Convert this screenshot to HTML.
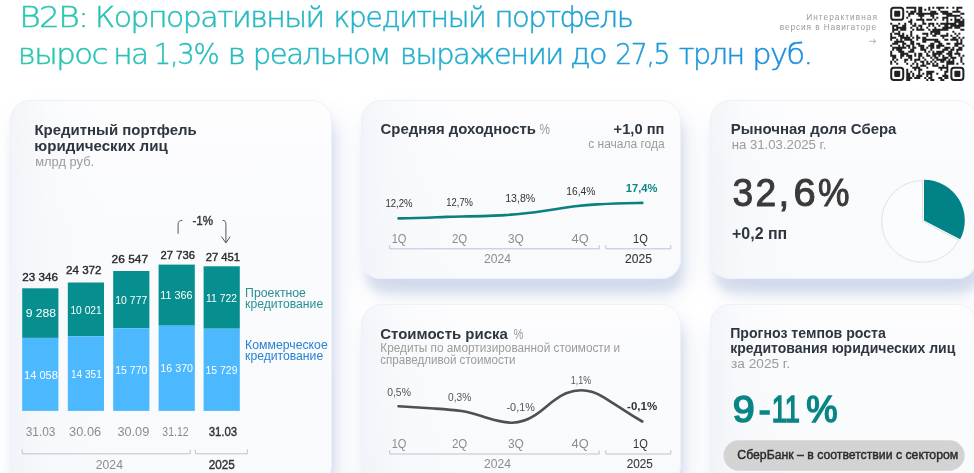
<!DOCTYPE html>
<html lang="ru"><head><meta charset="utf-8"><title>B2B</title>
<style>
html,body{margin:0;padding:0}
body{width:974px;height:473px;overflow:hidden;background:#fff;position:relative;font-family:"Liberation Sans","DejaVu Sans",sans-serif}
.card{position:absolute;border-radius:20px;border:1px solid #ecf1fb;background:linear-gradient(90deg,rgba(232,236,244,.48) 0,rgba(240,243,248,.22) 12%,rgba(255,255,255,0) 30%),linear-gradient(180deg,#fdfdfe 0,#fafbfd 30%,#f9fafc 100%);box-shadow:3px 16px 8px -2px rgba(150,170,210,.25),6px 14px 22px rgba(158,175,212,.30);box-sizing:border-box}
svg{position:absolute;left:0;top:0}
text{font-family:"Liberation Sans","DejaVu Sans",sans-serif}
.hd text{font-family:"DejaVu Sans Light","DejaVu Sans","Liberation Sans",sans-serif;font-weight:200}
</style></head><body>
<div class="card" style="left:10px;top:100px;width:322px;height:385px"></div>
<div class="card" style="left:361px;top:100px;width:320px;height:179px"></div>
<div class="card" style="left:710px;top:100px;width:267px;height:179px"></div>
<div class="card" style="left:361px;top:304px;width:320px;height:181px"></div>
<div class="card" style="left:710px;top:304px;width:267px;height:181px"></div>
<svg width="974" height="473" viewBox="0 0 974 473">
<defs><linearGradient id="hg" gradientUnits="userSpaceOnUse" x1="20" y1="0" x2="810" y2="0"><stop offset="0" stop-color="#2ac8ae"/><stop offset="0.5" stop-color="#22b0cc"/><stop offset="1" stop-color="#1b8de2"/></linearGradient></defs>
<g class="hd" fill="url(#hg)" stroke="url(#hg)" stroke-width="0.45" font-size="27.8" letter-spacing="-1.4">
<text y="27.3"><tspan x="19.15" textLength="68.37" lengthAdjust="spacingAndGlyphs">B2B:</tspan> <tspan x="95.07" textLength="228.70" lengthAdjust="spacingAndGlyphs">Корпоративный</tspan> <tspan x="333.44" textLength="151.79" lengthAdjust="spacingAndGlyphs">кредитный</tspan> <tspan x="494.47" textLength="137.82" lengthAdjust="spacingAndGlyphs">портфель</tspan></text>
<text y="64.4"><tspan x="17.88" textLength="88.99" lengthAdjust="spacingAndGlyphs">вырос</tspan> <tspan x="113.31" textLength="34.42" lengthAdjust="spacingAndGlyphs">на</tspan> <tspan x="153.83" textLength="64.38" lengthAdjust="spacingAndGlyphs">1,3%</tspan> <tspan x="227.60" textLength="16.87" lengthAdjust="spacingAndGlyphs">в</tspan> <tspan x="252.66" textLength="137.19" lengthAdjust="spacingAndGlyphs">реальном</tspan> <tspan x="400.09" textLength="162.66" lengthAdjust="spacingAndGlyphs">выражении</tspan> <tspan x="570.00" textLength="36.26" lengthAdjust="spacingAndGlyphs">до</tspan> <tspan x="615.35" textLength="53.68" lengthAdjust="spacingAndGlyphs">27,5</tspan> <tspan x="678.70" textLength="65.10" lengthAdjust="spacingAndGlyphs">трлн</tspan> <tspan x="752.32" textLength="59.45" lengthAdjust="spacingAndGlyphs">руб.</tspan></text></g>
<text x="806.20" y="19.8" font-size="8.3" fill="#9a9a9a" letter-spacing="1.037">Интерактивная</text>
<text x="779.80" y="29.7" font-size="8.3" fill="#9a9a9a" letter-spacing="0.889">версия в Навигаторе</text>
<path d="M869.3 41.3h6.3M873.2 38.9l2.5 2.4l-2.5 2.4" stroke="#8b8f9c" stroke-width="0.7" fill="none"/>
<g transform="translate(890.2,6.7) scale(2.005)"><path d="M8 0h5v1h-5zM14 0h2v1h-2zM19 0h1v1h-1zM21 0h1v1h-1zM23 0h4v1h-4zM28 0h1v1h-1zM31 0h1v1h-1zM33 0h3v1h-3zM12 1h1v1h-1zM14 1h2v1h-2zM17 1h1v1h-1zM19 1h1v1h-1zM24 1h1v1h-1zM33 1h1v1h-1zM8 2h1v1h-1zM10 2h3v1h-3zM14 2h2v1h-2zM20 2h3v1h-3zM25 2h4v1h-4zM31 2h4v1h-4zM9 3h3v1h-3zM13 3h11v1h-11zM26 3h5v1h-5zM35 3h2v1h-2zM9 4h1v1h-1zM14 4h3v1h-3zM20 4h2v1h-2zM28 4h7v1h-7zM8 5h1v1h-1zM15 5h1v1h-1zM21 5h1v1h-1zM23 5h1v1h-1zM26 5h3v1h-3zM32 5h1v1h-1zM35 5h1v1h-1zM10 6h1v1h-1zM13 6h4v1h-4zM18 6h3v1h-3zM22 6h1v1h-1zM26 6h1v1h-1zM28 6h1v1h-1zM30 6h1v1h-1zM32 6h3v1h-3zM36 6h1v1h-1zM9 7h2v1h-2zM16 7h1v1h-1zM28 7h1v1h-1zM32 7h5v1h-5zM0 8h1v1h-1zM4 8h1v1h-1zM7 8h1v1h-1zM10 8h1v1h-1zM12 8h1v1h-1zM16 8h2v1h-2zM19 8h3v1h-3zM23 8h1v1h-1zM25 8h8v1h-8zM34 8h3v1h-3zM1 9h3v1h-3zM6 9h2v1h-2zM11 9h2v1h-2zM14 9h2v1h-2zM19 9h1v1h-1zM21 9h1v1h-1zM24 9h1v1h-1zM27 9h2v1h-2zM30 9h7v1h-7zM1 10h1v1h-1zM3 10h5v1h-5zM10 10h1v1h-1zM13 10h1v1h-1zM15 10h1v1h-1zM18 10h1v1h-1zM22 10h1v1h-1zM26 10h5v1h-5zM32 10h3v1h-3zM1 11h3v1h-3zM5 11h3v1h-3zM11 11h1v1h-1zM13 11h4v1h-4zM19 11h1v1h-1zM21 11h8v1h-8zM35 11h2v1h-2zM1 12h1v1h-1zM4 12h1v1h-1zM10 12h1v1h-1zM20 12h5v1h-5zM31 12h1v1h-1zM0 13h1v1h-1zM2 13h3v1h-3zM6 13h1v1h-1zM10 13h1v1h-1zM16 13h3v1h-3zM20 13h1v1h-1zM22 13h3v1h-3zM28 13h1v1h-1zM32 13h1v1h-1zM34 13h1v1h-1zM0 14h1v1h-1zM4 14h3v1h-3zM8 14h1v1h-1zM10 14h1v1h-1zM13 14h1v1h-1zM18 14h1v1h-1zM21 14h2v1h-2zM25 14h4v1h-4zM30 14h1v1h-1zM33 14h1v1h-1zM0 15h3v1h-3zM5 15h5v1h-5zM11 15h1v1h-1zM13 15h2v1h-2zM16 15h2v1h-2zM26 15h1v1h-1zM31 15h2v1h-2zM34 15h1v1h-1zM36 15h1v1h-1zM0 16h1v1h-1zM3 16h1v1h-1zM5 16h1v1h-1zM7 16h4v1h-4zM13 16h1v1h-1zM16 16h8v1h-8zM27 16h2v1h-2zM30 16h4v1h-4zM35 16h1v1h-1zM2 17h5v1h-5zM10 17h2v1h-2zM16 17h2v1h-2zM22 17h3v1h-3zM33 17h1v1h-1zM35 17h1v1h-1zM1 18h3v1h-3zM6 18h2v1h-2zM10 18h2v1h-2zM13 18h2v1h-2zM20 18h2v1h-2zM24 18h2v1h-2zM28 18h2v1h-2zM32 18h4v1h-4zM0 19h1v1h-1zM4 19h1v1h-1zM6 19h1v1h-1zM8 19h2v1h-2zM11 19h1v1h-1zM14 19h3v1h-3zM19 19h3v1h-3zM23 19h4v1h-4zM32 19h2v1h-2zM36 19h1v1h-1zM1 20h7v1h-7zM9 20h1v1h-1zM11 20h2v1h-2zM15 20h2v1h-2zM18 20h1v1h-1zM20 20h2v1h-2zM23 20h2v1h-2zM27 20h3v1h-3zM31 20h1v1h-1zM34 20h2v1h-2zM1 21h1v1h-1zM3 21h3v1h-3zM10 21h2v1h-2zM15 21h3v1h-3zM20 21h1v1h-1zM26 21h3v1h-3zM30 21h2v1h-2zM33 21h3v1h-3zM0 22h1v1h-1zM4 22h3v1h-3zM9 22h3v1h-3zM17 22h1v1h-1zM19 22h1v1h-1zM21 22h1v1h-1zM23 22h4v1h-4zM29 22h2v1h-2zM33 22h1v1h-1zM0 23h1v1h-1zM5 23h4v1h-4zM12 23h1v1h-1zM14 23h2v1h-2zM18 23h1v1h-1zM21 23h5v1h-5zM28 23h3v1h-3zM32 23h3v1h-3zM0 24h3v1h-3zM5 24h2v1h-2zM8 24h3v1h-3zM12 24h1v1h-1zM14 24h2v1h-2zM18 24h2v1h-2zM21 24h2v1h-2zM24 24h1v1h-1zM26 24h1v1h-1zM29 24h2v1h-2zM34 24h1v1h-1zM36 24h1v1h-1zM1 25h2v1h-2zM5 25h1v1h-1zM9 25h2v1h-2zM14 25h1v1h-1zM16 25h1v1h-1zM20 25h1v1h-1zM22 25h2v1h-2zM26 25h3v1h-3zM30 25h3v1h-3zM35 25h1v1h-1zM1 26h1v1h-1zM3 26h1v1h-1zM7 26h2v1h-2zM10 26h1v1h-1zM12 26h3v1h-3zM17 26h1v1h-1zM21 26h1v1h-1zM23 26h5v1h-5zM29 26h1v1h-1zM31 26h1v1h-1zM35 26h1v1h-1zM0 27h1v1h-1zM2 27h1v1h-1zM7 27h1v1h-1zM12 27h1v1h-1zM15 27h2v1h-2zM18 27h1v1h-1zM20 27h1v1h-1zM22 27h1v1h-1zM25 27h2v1h-2zM28 27h4v1h-4zM35 27h1v1h-1zM0 28h1v1h-1zM3 28h1v1h-1zM8 28h1v1h-1zM11 28h1v1h-1zM13 28h1v1h-1zM16 28h1v1h-1zM18 28h2v1h-2zM21 28h1v1h-1zM23 28h1v1h-1zM28 28h4v1h-4zM33 28h1v1h-1zM36 28h1v1h-1zM10 29h1v1h-1zM13 29h1v1h-1zM15 29h3v1h-3zM21 29h3v1h-3zM26 29h1v1h-1zM28 29h1v1h-1zM11 30h4v1h-4zM18 30h1v1h-1zM24 30h5v1h-5zM8 31h1v1h-1zM12 31h1v1h-1zM14 31h2v1h-2zM25 31h1v1h-1zM28 31h1v1h-1zM8 32h1v1h-1zM10 32h1v1h-1zM14 32h1v1h-1zM18 32h4v1h-4zM27 32h2v1h-2zM8 33h2v1h-2zM11 33h1v1h-1zM14 33h1v1h-1zM16 33h1v1h-1zM18 33h3v1h-3zM23 33h1v1h-1zM27 33h1v1h-1zM8 34h2v1h-2zM11 34h1v1h-1zM13 34h3v1h-3zM18 34h1v1h-1zM20 34h1v1h-1zM26 34h3v1h-3zM8 35h3v1h-3zM12 35h3v1h-3zM17 35h1v1h-1zM19 35h2v1h-2zM24 35h2v1h-2zM27 35h2v1h-2zM8 36h2v1h-2zM18 36h1v1h-1zM20 36h2v1h-2zM25 36h2v1h-2z" fill="#222"/><rect x="0.5" y="0.5" width="6" height="6" rx="1.3" fill="none" stroke="#222" stroke-width="1"/><rect x="2" y="2" width="3" height="3" rx="0.5" fill="#222"/><rect x="0.5" y="30.5" width="6" height="6" rx="1.3" fill="none" stroke="#222" stroke-width="1"/><rect x="2" y="32" width="3" height="3" rx="0.5" fill="#222"/><rect x="30.5" y="30.5" width="6" height="6" rx="1.3" fill="none" stroke="#222" stroke-width="1"/><rect x="32" y="32" width="3" height="3" rx="0.5" fill="#222"/></g>
<text x="34.40" y="134.8" font-size="15" fill="#2e3640" font-weight="700" textLength="162.32" lengthAdjust="spacingAndGlyphs">Кредитный портфель</text>
<text x="34.39" y="150.8" font-size="15" fill="#2e3640" font-weight="700" textLength="133.42" lengthAdjust="spacingAndGlyphs">юридических лиц</text>
<text x="35.20" y="165.5" font-size="12" fill="#9b9b9b" textLength="58.96" lengthAdjust="spacingAndGlyphs">млрд руб.</text>
<rect x="22.2" y="288.3" width="36.2" height="49.6" fill="#078f8f"/><rect x="22.2" y="337.9" width="36.2" height="73.0" fill="#4cb9ff"/>
<rect x="67.8" y="282.5" width="36.2" height="53.8" fill="#078f8f"/><rect x="67.8" y="336.3" width="36.2" height="74.6" fill="#4cb9ff"/>
<rect x="113.2" y="271" width="36.2" height="57.2" fill="#078f8f"/><rect x="113.2" y="328.2" width="36.2" height="82.7" fill="#4cb9ff"/>
<rect x="158.6" y="264.6" width="36.2" height="61.1" fill="#078f8f"/><rect x="158.6" y="325.7" width="36.2" height="85.2" fill="#4cb9ff"/>
<rect x="203.6" y="266.3" width="36.2" height="62.4" fill="#078f8f"/><rect x="203.6" y="328.7" width="36.2" height="82.2" fill="#4cb9ff"/>
<text x="22.30" y="281.2" font-size="11.8" fill="#2b2b2b" stroke="#2b2b2b" stroke-width="0.4" textLength="35.67" lengthAdjust="spacingAndGlyphs">23 346</text>
<text x="66.00" y="273.8" font-size="11.8" fill="#2b2b2b" stroke="#2b2b2b" stroke-width="0.4" textLength="35.55" lengthAdjust="spacingAndGlyphs">24 372</text>
<text x="111.60" y="262.8" font-size="11.8" fill="#2b2b2b" stroke="#2b2b2b" stroke-width="0.4" textLength="36.47" lengthAdjust="spacingAndGlyphs">26 547</text>
<text x="160.60" y="258.6" font-size="11.8" fill="#2b2b2b" stroke="#2b2b2b" stroke-width="0.4" textLength="34.28" lengthAdjust="spacingAndGlyphs">27 736</text>
<text x="205.70" y="261.1" font-size="11.8" fill="#2b2b2b" stroke="#2b2b2b" stroke-width="0.4" textLength="34.44" lengthAdjust="spacingAndGlyphs">27 451</text>
<text x="25.70" y="316.8" font-size="11.5" fill="#fff" textLength="30.42" lengthAdjust="spacingAndGlyphs">9 288</text>
<text x="70.40" y="313.8" font-size="11.5" fill="#fff" textLength="31.35" lengthAdjust="spacingAndGlyphs">10 021</text>
<text x="115.30" y="304.1" font-size="11.5" fill="#fff" textLength="32.06" lengthAdjust="spacingAndGlyphs">10 777</text>
<text x="160.30" y="299" font-size="11.5" fill="#fff" textLength="32.27" lengthAdjust="spacingAndGlyphs">11 366</text>
<text x="206.00" y="302" font-size="11.5" fill="#fff" textLength="30.96" lengthAdjust="spacingAndGlyphs">11 722</text>
<text x="24.00" y="378.5" font-size="11.5" fill="#fff" textLength="33.88" lengthAdjust="spacingAndGlyphs">14 058</text>
<text x="71.00" y="377.7" font-size="11.5" fill="#fff" textLength="30.75" lengthAdjust="spacingAndGlyphs">14 351</text>
<text x="115.30" y="374" font-size="11.5" fill="#fff" textLength="32.06" lengthAdjust="spacingAndGlyphs">15 770</text>
<text x="160.30" y="372.1" font-size="11.5" fill="#fff" textLength="32.77" lengthAdjust="spacingAndGlyphs">16 370</text>
<text x="205.40" y="374" font-size="11.5" fill="#fff" textLength="32.16" lengthAdjust="spacingAndGlyphs">15 729</text>
<text x="192.40" y="224.8" font-size="13" fill="#333" stroke="#333" stroke-width="0.4" textLength="20.61" lengthAdjust="spacingAndGlyphs">-1%</text>
<path d="M178.100 233.800V224.500q0-4.200 4.300-4.200M222.600 220.300q3.300 0 3.300 4.200V242.800M221.400 236.600l4.500 6.300l4.300-6.300" stroke="#555" stroke-width="1" fill="none"/>
<text x="25.70" y="436.2" font-size="13" fill="#8c8c8c" textLength="29.71" lengthAdjust="spacingAndGlyphs">31.03</text>
<text x="69.10" y="436.2" font-size="13" fill="#8c8c8c" textLength="32.03" lengthAdjust="spacingAndGlyphs">30.06</text>
<text x="117.40" y="436.2" font-size="13" fill="#8c8c8c" textLength="31.93" lengthAdjust="spacingAndGlyphs">30.09</text>
<text x="162.30" y="436.2" font-size="13" fill="#8c8c8c" textLength="26.29" lengthAdjust="spacingAndGlyphs">31.12</text>
<text x="208.70" y="436.2" font-size="13" fill="#333" stroke="#333" stroke-width="0.4" textLength="28.50" lengthAdjust="spacingAndGlyphs">31.03</text>
<path d="M22.2 449.400V453.800H190.200V449.400M195.300 449.400V453.800H247.300V449.400" stroke="#b9c3da" stroke-width="1" fill="none"/>
<text x="95.80" y="468.5" font-size="12.5" fill="#8c8c8c" textLength="27.15" lengthAdjust="spacingAndGlyphs">2024</text>
<text x="208.70" y="468.5" font-size="12.5" fill="#333" stroke="#333" stroke-width="0.4" textLength="26.15" lengthAdjust="spacingAndGlyphs">2025</text>
<text x="245.10" y="297.2" font-size="12" fill="#2a9090" textLength="60.87" lengthAdjust="spacingAndGlyphs">Проектное</text>
<text x="245.10" y="307.7" font-size="12" fill="#2a9090" textLength="78.07" lengthAdjust="spacingAndGlyphs">кредитование</text>
<text x="245.10" y="349" font-size="12" fill="#2b80d2" textLength="82.67" lengthAdjust="spacingAndGlyphs">Коммерческое</text>
<text x="245.10" y="359.5" font-size="12" fill="#2b80d2" textLength="78.07" lengthAdjust="spacingAndGlyphs">кредитование</text>
<text x="380.50" y="134.2" font-size="15" fill="#2e3640" font-weight="700" textLength="155.52" lengthAdjust="spacingAndGlyphs">Средняя доходность</text>
<text x="539.60" y="134.2" font-size="14" fill="#9b9b9b" textLength="10.48" lengthAdjust="spacingAndGlyphs">%</text>
<text x="613.60" y="134.2" font-size="15" fill="#2e3640" font-weight="700" textLength="50.76" lengthAdjust="spacingAndGlyphs">+1,0 пп</text>
<text x="588.20" y="147.6" font-size="12" fill="#9b9b9b" textLength="76.47" lengthAdjust="spacingAndGlyphs">с начала года</text>
<text x="385.40" y="207.3" font-size="11.4" fill="#333" textLength="27.21" lengthAdjust="spacingAndGlyphs">12,2%</text>
<text x="446.30" y="206" font-size="11.4" fill="#333" textLength="26.71" lengthAdjust="spacingAndGlyphs">12,7%</text>
<text x="505.20" y="201.7" font-size="11.4" fill="#333" textLength="30.12" lengthAdjust="spacingAndGlyphs">13,8%</text>
<text x="566.20" y="194.7" font-size="11.4" fill="#333" textLength="29.22" lengthAdjust="spacingAndGlyphs">16,4%</text>
<text x="625.80" y="191.8" font-size="11.4" fill="#0a8585" font-weight="700" textLength="31.63" lengthAdjust="spacingAndGlyphs">17,4%</text>
<path transform="translate(0,0.7)" d="M398.600 217.700C420 217.300 430 216.800 446 216.200C470 215.600 490 215.300 505 214.400C520 213.500 535 211.500 545 210C560 208 565 206.800 575 205.500C590 203.800 595 203.800 600 203.500C615 202.800 630 202.500 642.300 202.200" stroke="#0a8080" stroke-width="2.600" fill="none" stroke-linecap="round"/>
<text x="391.70" y="243.1" font-size="13" fill="#8c8c8c" textLength="14.80" lengthAdjust="spacingAndGlyphs">1Q</text>
<text x="451.90" y="243.1" font-size="13" fill="#8c8c8c" textLength="15.30" lengthAdjust="spacingAndGlyphs">2Q</text>
<text x="508.00" y="243.1" font-size="13" fill="#8c8c8c" textLength="15.80" lengthAdjust="spacingAndGlyphs">3Q</text>
<text x="571.50" y="243.1" font-size="13" fill="#8c8c8c" textLength="17.11" lengthAdjust="spacingAndGlyphs">4Q</text>
<text x="633.00" y="243.1" font-size="13" fill="#333" textLength="14.80" lengthAdjust="spacingAndGlyphs">1Q</text>
<path d="M389.700 245.10000000000002V248.8H599.200V245.10000000000002M605.800 245.10000000000002V248.8H670.800V245.10000000000002" stroke="#b9c3da" stroke-width="1" fill="none"/>
<text x="484.00" y="262.6" font-size="12.5" fill="#8c8c8c" textLength="26.95" lengthAdjust="spacingAndGlyphs">2024</text>
<text x="625.06" y="262.6" font-size="12.5" fill="#3a3a3a" stroke="#3a3a3a" stroke-width="0.12" textLength="27.03" lengthAdjust="spacingAndGlyphs">2025</text>
<text x="380.30" y="338.6" font-size="15" fill="#2e3640" font-weight="700" textLength="127.54" lengthAdjust="spacingAndGlyphs">Стоимость риска</text>
<text x="513.60" y="338.6" font-size="14" fill="#9b9b9b" textLength="9.96" lengthAdjust="spacingAndGlyphs">%</text>
<text x="380.30" y="352" font-size="12" fill="#9b9b9b" textLength="239.89" lengthAdjust="spacingAndGlyphs">Кредиты по амортизированной стоимости и</text>
<text x="380.30" y="364" font-size="12" fill="#9b9b9b" textLength="135.18" lengthAdjust="spacingAndGlyphs">справедливой стоимости</text>
<text x="387.20" y="396" font-size="11.4" fill="#555" textLength="23.72" lengthAdjust="spacingAndGlyphs">0,5%</text>
<text x="448.00" y="401" font-size="11.4" fill="#555" textLength="23.32" lengthAdjust="spacingAndGlyphs">0,3%</text>
<text x="506.50" y="410.5" font-size="11.4" fill="#555" textLength="28.32" lengthAdjust="spacingAndGlyphs">-0,1%</text>
<text x="570.80" y="384" font-size="11.4" fill="#555" textLength="20.30" lengthAdjust="spacingAndGlyphs">1,1%</text>
<text x="627.10" y="410.1" font-size="11.4" fill="#333" font-weight="700" textLength="30.03" lengthAdjust="spacingAndGlyphs">-0,1%</text>
<path d="M398.500 406.200C412 407 424 407.800 434 408.500C445 409.200 452 409.600 461.500 411C472 412.600 478 415 486.800 417.800C497 421 503 422.700 512.200 422.700C521 422.700 527 420.500 535.200 415.200C542 410.800 547 406 553 401.200C562 394 570 390.300 580.900 390.300C590 390.300 597 393 603.800 397.400C612 402.700 619 407 626.600 411.900C632 415.500 637 418.500 642.300 421.500" stroke="#505050" stroke-width="2.600" fill="none" stroke-linecap="round"/>
<text x="391.70" y="448.3" font-size="13" fill="#8c8c8c" textLength="14.80" lengthAdjust="spacingAndGlyphs">1Q</text>
<text x="451.90" y="448.3" font-size="13" fill="#8c8c8c" textLength="15.30" lengthAdjust="spacingAndGlyphs">2Q</text>
<text x="508.00" y="448.3" font-size="13" fill="#8c8c8c" textLength="15.80" lengthAdjust="spacingAndGlyphs">3Q</text>
<text x="571.50" y="448.3" font-size="13" fill="#8c8c8c" textLength="17.11" lengthAdjust="spacingAndGlyphs">4Q</text>
<text x="633.00" y="448.3" font-size="13" fill="#333" textLength="14.80" lengthAdjust="spacingAndGlyphs">1Q</text>
<path d="M389.700 450.3V454H599.200V450.3M605.800 450.3V454H670.800V450.3" stroke="#b9c3da" stroke-width="1" fill="none"/>
<text x="484.00" y="468" font-size="12.5" fill="#8c8c8c" textLength="26.95" lengthAdjust="spacingAndGlyphs">2024</text>
<text x="626.76" y="468" font-size="12.5" fill="#3a3a3a" stroke="#3a3a3a" stroke-width="0.12" textLength="26.13" lengthAdjust="spacingAndGlyphs">2025</text>
<text x="730.70" y="134.3" font-size="15" fill="#2e3640" font-weight="700" textLength="165.74" lengthAdjust="spacingAndGlyphs">Рыночная доля Сбера</text>
<text x="731.70" y="149" font-size="12" fill="#9b9b9b" textLength="94.77" lengthAdjust="spacingAndGlyphs">на 31.03.2025 г.</text>
<text y="205.6" font-size="38.4" fill="#3a3a3a" stroke="#3a3a3a" stroke-width="1"><tspan x="732.43" textLength="20.68" lengthAdjust="spacingAndGlyphs">3</tspan><tspan x="755.43" textLength="20.68" lengthAdjust="spacingAndGlyphs">2</tspan><tspan x="778.60" textLength="10.67" lengthAdjust="spacingAndGlyphs">,</tspan><tspan x="793.46" textLength="22.25" lengthAdjust="spacingAndGlyphs">6</tspan><tspan x="817.98" textLength="31.47" lengthAdjust="spacingAndGlyphs">%</tspan></text>
<text x="732.00" y="239" font-size="16" fill="#2e3640" font-weight="700" textLength="55.26" lengthAdjust="spacingAndGlyphs">+0,2 пп</text>
<path d="M922.5 221.4L958.7 240.2A40.8 40.8 0 1 1 922.5 180.60000000000002Z" fill="#fbfcfd" stroke="#dadada" stroke-width="0.8" stroke-linejoin="round"/>
<path d="M924.0 220.5V179.70000000000002A40.8 40.8 0 0 1 960.2 239.3Z" fill="#008286"/>
<text x="730.16" y="337.7" font-size="15" fill="#2e3640" font-weight="700" textLength="155.72" lengthAdjust="spacingAndGlyphs">Прогноз темпов роста</text>
<text x="730.17" y="353" font-size="15" fill="#2e3640" font-weight="700" textLength="225.11" lengthAdjust="spacingAndGlyphs">кредитования юридических лиц</text>
<text x="731.10" y="368.4" font-size="12" fill="#9b9b9b" textLength="58.88" lengthAdjust="spacingAndGlyphs">за 2025 г.</text>
<text y="422.4" font-size="37.4" fill="#0a8585" stroke="#0a8585" stroke-width="1.6"><tspan x="732.75" textLength="21.89" lengthAdjust="spacingAndGlyphs">9</tspan><tspan x="758.75" textLength="11.83" lengthAdjust="spacingAndGlyphs">-</tspan><tspan x="771.74" textLength="28.26" lengthAdjust="spacingAndGlyphs">11</tspan><tspan x="806.16" textLength="31.32" lengthAdjust="spacingAndGlyphs">%</tspan></text>
<rect x="723.600" y="440.200" width="241" height="30.600" rx="15.300" fill="#d3d3d3"/>
<text x="737.33" y="459.4" font-size="13" fill="#2b2b2b" stroke="#2b2b2b" stroke-width="0.45" textLength="220.89" lengthAdjust="spacingAndGlyphs">СберБанк – в соответствии с сектором</text>
</svg>
</body></html>
